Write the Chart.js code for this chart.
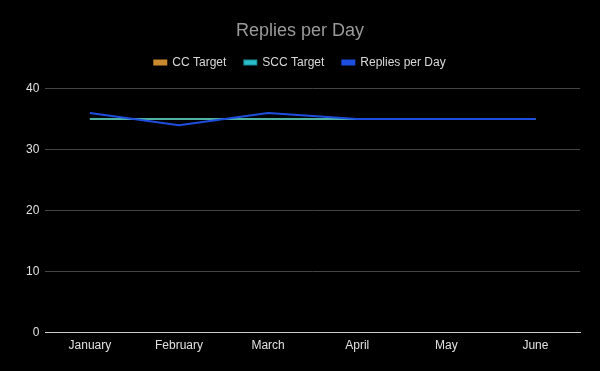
<!DOCTYPE html>
<html><head><meta charset="utf-8">
<script src="https://cdn.jsdelivr.net/npm/chart.js@4"></script>
<style>html,body{margin:0;padding:0;background:#000;}#wrap{width:600px;height:371px;}</style>
</head><body><div id="wrap"><canvas id="c" width="600" height="371"></canvas></div>
<script>
const categories = ["January","February","March","April","May","June"];
const ccTarget = [35,35,35,35,35,35];
const sccTarget = [35,35,35,35,35,35];
const repliesPerDay = [36,34,36,35,35,35];
const yTicks = [0,10,20,30,40];

Chart.defaults.font.family = "Liberation Sans, Arial, sans-serif";
const legendMargin = {
  id:'legendMargin',
  beforeInit(chart){
    const orig = chart.legend.fit;
    chart.legend.fit = function(){ orig.bind(chart.legend)(); this.height += 10; };
  }
};
new Chart(document.getElementById('c'), {
  type: 'line',
  data: {
    labels: categories,
    datasets: [
      {label:'CC Target', data: ccTarget, order:3, borderColor:'#c98a2e', backgroundColor:'#c98a2e', borderWidth:2, pointRadius:0, tension:0},
      {label:'SCC Target', data: sccTarget, order:2, borderColor:'rgba(38,190,200,0.75)', backgroundColor:'#2bbfc9', borderWidth:2, pointRadius:0, tension:0},
      {label:'Replies per Day', data: repliesPerDay, order:1, borderColor:'#1d4ee0', backgroundColor:'#1d4ee0', borderWidth:2, pointRadius:0, tension:0}
    ]
  },
  options: {
    responsive:false, animation:false,
    layout:{padding:{left:20,right:20,top:10,bottom:12}},
    plugins:{
      title:{display:true,text:'Replies per Day',color:'#9a9a9a',font:{size:18,weight:'normal'},padding:{top:10,bottom:-3}},
      legend:{labels:{color:'#d9d9d9',boxWidth:12,boxHeight:4,font:{size:12},padding:18,
        sort:(a,b)=>a.datasetIndex-b.datasetIndex}},
      tooltip:{enabled:false}
    },
    scales:{
      x:{offset:true,grid:{display:false,drawTicks:false},border:{color:'#cccccc'},ticks:{color:'#e0e0e0',font:{size:12},padding:6}},
      y:{min:0,max:40,afterBuildTicks:(s)=>{s.ticks=yTicks.map(v=>({value:v}));},
         grid:{color:'#444444',drawTicks:false},border:{display:false},
         ticks:{color:'#e0e0e0',font:{size:12},padding:6}}
    }
  },
  plugins:[legendMargin]
});
</script></body></html>
